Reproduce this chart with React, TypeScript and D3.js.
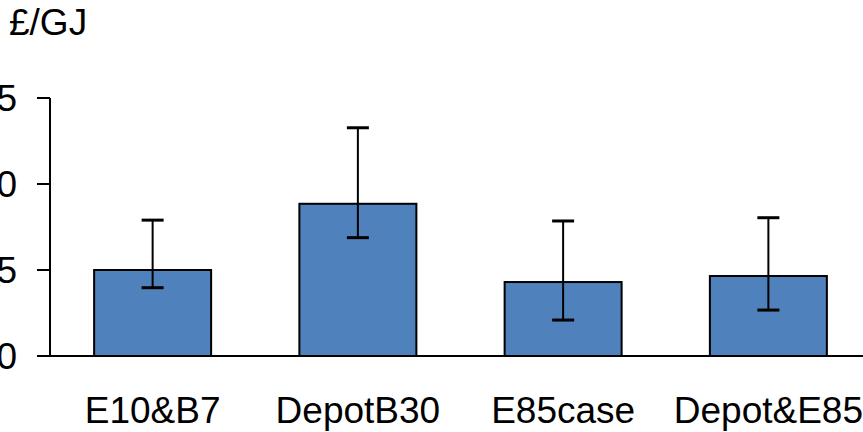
import React from "react";
import * as d3 from "d3";

const categories = ["E10&B7", "DepotB30", "E85case", "Depot&E85"];
const values = [5.0, 8.85, 4.3, 4.65];
const errLow = [3.97, 6.88, 2.09, 2.67];
const errHigh = [7.9, 13.27, 7.85, 8.04];
const yTicks = [0, 5, 10, 15];
const unitLabel = "£/GJ";

const W = 863;
const H = 432;
const FONT = "'Liberation Sans', Arial, sans-serif";
const FS = 37;

export default function App() {
  const x = d3
    .scaleBand<string>()
    .domain(categories)
    .range([50, 871])
    .paddingInner(0.43)
    .paddingOuter(0.215);
  const y = d3.scaleLinear().domain([0, 15]).range([356, 98]);
  const capW = 22;

  return (
    <svg
      width={W}
      height={H}
      style={{ position: "absolute", left: 0, top: 0, background: "#fff" }}
      fontFamily={FONT}
    >
      <text x={9} y={35} fontSize={FS} fill="#000">
        {unitLabel}
      </text>
      {categories.map((c, i) => {
        const bx = x(c)!;
        const bw = x.bandwidth();
        const cx = bx + bw / 2;
        return (
          <g key={c}>
            <rect
              x={bx}
              y={y(values[i])}
              width={bw}
              height={y(0) - y(values[i])}
              fill="#4F81BD"
              stroke="#000"
              strokeWidth={2}
            />
            <line x1={cx} x2={cx} y1={y(errHigh[i])} y2={y(errLow[i])} stroke="#000" strokeWidth={2} />
            <line x1={cx - capW / 2} x2={cx + capW / 2} y1={y(errHigh[i])} y2={y(errHigh[i])} stroke="#000" strokeWidth={3} />
            <line x1={cx - capW / 2} x2={cx + capW / 2} y1={y(errLow[i])} y2={y(errLow[i])} stroke="#000" strokeWidth={3} />
            <text x={cx} y={423} fontSize={FS} textAnchor="middle" fill="#000">
              {c}
            </text>
          </g>
        );
      })}
      <line x1={50} x2={50} y1={y(15)} y2={y(0)} stroke="#000" strokeWidth={2} />
      <line x1={50} x2={W} y1={y(0)} y2={y(0)} stroke="#000" strokeWidth={2} />
      {yTicks.map((t) => (
        <g key={t}>
          <line x1={37} x2={50} y1={y(t)} y2={y(t)} stroke="#000" strokeWidth={2} />
          <text x={17} y={y(t)} dy="0.36em" fontSize={FS} textAnchor="end" fill="#000">
            {t}
          </text>
        </g>
      ))}
    </svg>
  );
}
